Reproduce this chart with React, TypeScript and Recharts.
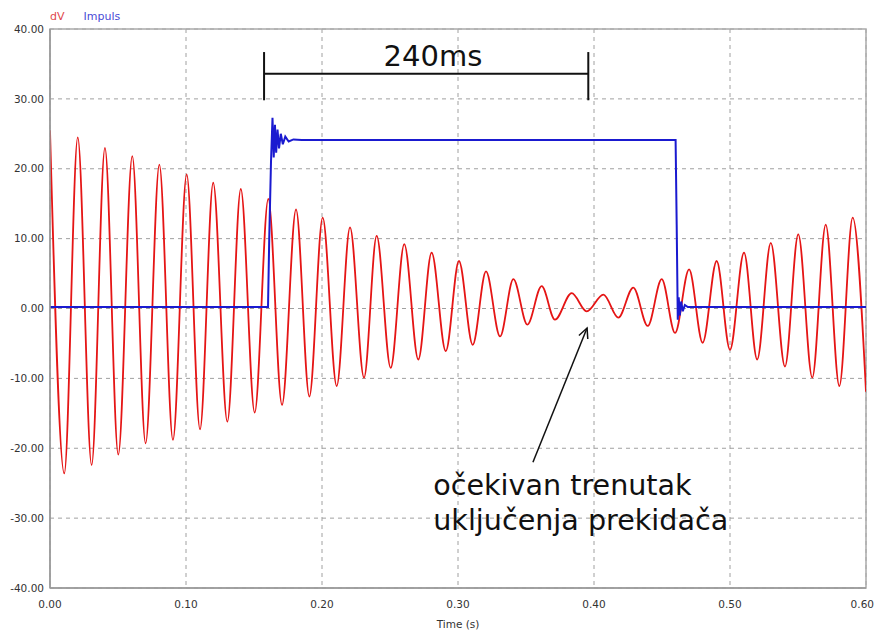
import React from 'react';
import {
  LineChart,
  Line,
  XAxis,
  YAxis,
  CartesianGrid,
  ReferenceLine,
  ReferenceDot,
  ReferenceArea,
  Legend,
  Label,
} from 'recharts';

// dV signal: successive peaks / troughs (time in s, value)
const dvTimes = [
  0.0, 0.0105, 0.0204, 0.0306, 0.0404, 0.0502, 0.0605, 0.0703, 0.0804, 0.0904,
  0.1005, 0.1103, 0.12, 0.1304, 0.1403, 0.1505, 0.1605, 0.1706, 0.1809, 0.1907,
  0.2005, 0.2108, 0.2206, 0.2309, 0.2402, 0.2505, 0.2605, 0.2708, 0.2806, 0.291,
  0.3007, 0.3108, 0.3206, 0.3309, 0.3407, 0.351, 0.3615, 0.3713, 0.3836, 0.3946,
  0.4069, 0.4179, 0.4289, 0.4395, 0.4498, 0.4596, 0.4699, 0.4799, 0.4902, 0.5,
  0.5103, 0.52, 0.53, 0.5404, 0.5502, 0.5605, 0.5704, 0.5804, 0.5902, 0.6,
];
const dvValues = [
  25.5, -23.6, 24.5, -22.4, 23.0, -20.9, 21.8, -19.3, 20.6, -18.8,
  19.2, -17.3, 18.0, -16.2, 17.1, -14.9, 15.7, -13.8, 14.2, -12.6,
  13.0, -11.1, 11.6, -9.9, 10.4, -8.5, 9.2, -7.3, 8.0, -6.1,
  6.8, -5.2, 5.3, -4.0, 4.2, -2.3, 3.2, -1.6, 2.2, -0.4,
  2.0, -1.3, 3.0, -2.5, 4.2, -3.5, 5.6, -4.9, 6.8, -5.9,
  8.0, -7.3, 9.4, -8.3, 10.6, -9.9, 12.0, -11.1, 13.0, -11.9,
];

// Impuls signal
const impTimes = [
  0.0, 0.1603, 0.1612, 0.1625, 0.1636, 0.1645, 0.1654, 0.1663, 0.1673, 0.1684,
  0.1697, 0.1712, 0.173, 0.1755, 0.179, 0.185, 0.46, 0.4608, 0.4616, 0.4623,
  0.4631, 0.4641, 0.4653, 0.4668, 0.469, 0.6,
];
const impValues = [
  0.2, 0.2, 10, 21, 27.3, 21.6, 26.3, 22.3, 25.6, 22.9,
  25.0, 23.5, 24.6, 23.9, 24.2, 24.1, 24.1, 12, -1.6, 1.6,
  -1.0, 1.0, -0.4, 0.5, 0.2, 0.2,
];

const xTicks = [0, 0.1, 0.2, 0.3, 0.4, 0.5, 0.6];
const yTicks = [-40, -30, -20, -10, 0, 10, 20, 30, 40];

// annotation anchors (data coordinates)
const bracketStart = 0.1574;
const bracketEnd = 0.3958;
const bracketY = 33.6;
const bracketTop = 36.7;
const bracketBottom = 29.8;
const bracketLabelX = 0.2816;
const bracketLabelY = 34.7;
const bracketLabel = '240ms';

const arrowFrom = { x: 0.3551, y: -22.0 };
const arrowTo = { x: 0.3949, y: -2.8 };

const noteX = 0.2818;
const noteLines = ['očekivan trenutak', 'uključenja prekidača'];
const noteYs = [-26.7, -31.7];

const dvData = dvTimes.map((t, i) => ({ t, v: dvValues[i] }));
const impData = impTimes.map((t, i) => ({ t, v: impValues[i] }));

const RED = '#e51515';
const BLUE = '#1a1ad0';
const FONT = 'DejaVu Sans';

const ArrowShape = (props: any) => {
  const { x1, y1, x2, y2 } = props;
  const ang = Math.atan2(y2 - y1, x2 - x1);
  const len = 11;
  const spread = 0.45;
  const ax = x2 - len * Math.cos(ang - spread);
  const ay = y2 - len * Math.sin(ang - spread);
  const bx = x2 - len * Math.cos(ang + spread);
  const by = y2 - len * Math.sin(ang + spread);
  return (
    <g>
      <line x1={x1} y1={y1} x2={x2} y2={y2} stroke="#111" strokeWidth={1.5} />
      <polyline
        points={`${ax},${ay} ${x2},${y2} ${bx},${by}`}
        fill="none"
        stroke="#111"
        strokeWidth={1.5}
      />
    </g>
  );
};

const BlackLine = (props: any) => {
  const { x1, y1, x2, y2 } = props;
  return <line x1={x1} y1={y1} x2={x2} y2={y2} stroke="#111" strokeWidth={2} />;
};

const makeText = (txt: string, size: number, anchor: 'start' | 'middle') => (props: any) => {
  const { cx, cy } = props;
  return (
    <text x={cx} y={cy} fontFamily={FONT} fontSize={size} fill="#111" textAnchor={anchor}>
      {txt}
    </text>
  );
};

const XTick = (props: any) => {
  const { x, y, payload, index } = props;
  const last = index === xTicks.length - 1;
  return (
    <text
      x={last ? x + 8 : x}
      y={y + 12}
      fontFamily={FONT}
      fontSize={10.5}
      fill="#333"
      textAnchor={last ? 'end' : 'middle'}
    >
      {Number(payload.value).toFixed(2)}
    </text>
  );
};

const LegendContent = () => (
  <div style={{ fontFamily: FONT, fontSize: 11, lineHeight: '13px', whiteSpace: 'nowrap' }}>
    <span style={{ color: '#e0484c' }}>dV</span>
    <span style={{ color: '#4a4ad6', marginLeft: 19 }}>Impuls</span>
  </div>
);

export default function App() {
  return (
    <div style={{ position: 'absolute', left: 0, top: 0, background: '#fff' }}>
      <LineChart width={875} height={630} margin={{ top: 29, right: 9, bottom: 0, left: 0 }}>
        <CartesianGrid stroke="#a0a0a0" strokeDasharray="4 4" />
        <ReferenceArea
          x1={0}
          x2={0.6}
          y1={-40}
          y2={40}
          fill="none"
          fillOpacity={0}
          stroke="#aaaaaa"
          strokeWidth={1.5}
          ifOverflow="visible"
        />
        <XAxis
          dataKey="t"
          type="number"
          domain={[0, 0.6]}
          ticks={xTicks}
          interval={0}
          allowDataOverflow
          height={42}
          tickLine={false}
          axisLine={{ stroke: '#999', strokeWidth: 1.5 }}
          tick={<XTick />}
        >
          <Label
            value="Time (s)"
            position="insideBottom"
            offset={2}
            style={{ fontFamily: FONT, fontSize: 10.5, fill: '#333' }}
          />
        </XAxis>
        <YAxis
          type="number"
          domain={[-40, 40]}
          ticks={yTicks}
          interval={0}
          allowDataOverflow
          width={50}
          tickLine={false}
          tickSize={4}
          tickMargin={2}
          axisLine={{ stroke: '#999', strokeWidth: 1.5 }}
          tickFormatter={(v: number) => v.toFixed(2)}
          tick={{ fontFamily: FONT, fontSize: 10.5, fill: '#333' }}
        />
        <Legend
          layout="horizontal"
          verticalAlign="middle"
          align="center"
          wrapperStyle={{ top: 10, left: 50, width: 200 }}
          content={LegendContent}
        />
        <Line
          data={dvData}
          dataKey="v"
          type="monotone"
          stroke={RED}
          strokeWidth={1.8}
          dot={false}
          isAnimationActive={false}
          name="dV"
        />
        <Line
          data={impData}
          dataKey="v"
          type="linear"
          stroke={BLUE}
          strokeWidth={2}
          dot={false}
          isAnimationActive={false}
          name="Impuls"
        />
        <ReferenceLine
          segment={[{ x: bracketStart, y: bracketY }, { x: bracketEnd, y: bracketY }]}
          shape={BlackLine}
          ifOverflow="visible"
        />
        <ReferenceLine
          segment={[{ x: bracketStart, y: bracketTop }, { x: bracketStart, y: bracketBottom }]}
          shape={BlackLine}
          ifOverflow="visible"
        />
        <ReferenceLine
          segment={[{ x: bracketEnd, y: bracketTop }, { x: bracketEnd, y: bracketBottom }]}
          shape={BlackLine}
          ifOverflow="visible"
        />
        <ReferenceLine
          segment={[arrowFrom, arrowTo]}
          shape={ArrowShape}
          ifOverflow="visible"
        />
        <ReferenceDot
          x={bracketLabelX}
          y={bracketLabelY}
          r={0}
          ifOverflow="visible"
          shape={makeText(bracketLabel, 29, 'middle')}
        />
        {noteLines.map((line, i) => (
          <ReferenceDot
            key={line}
            x={noteX}
            y={noteYs[i]}
            r={0}
            ifOverflow="visible"
            shape={makeText(line, 28.6, 'start')}
          />
        ))}
      </LineChart>
    </div>
  );
}
